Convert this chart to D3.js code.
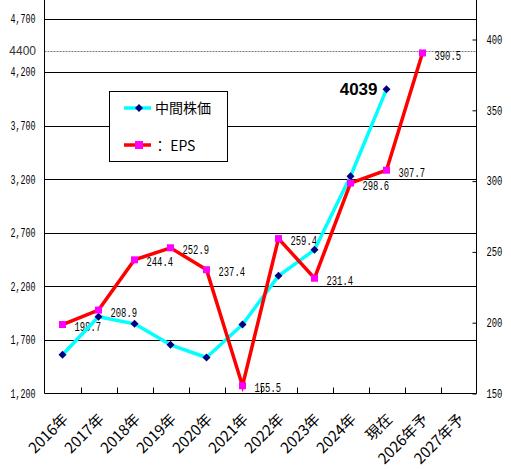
<!DOCTYPE html>
<html><head><meta charset="utf-8">
<script src="https://cdn.jsdelivr.net/npm/d3@7"></script>
<style>body{margin:0;background:#fff;} svg{display:block;}</style>
</head><body>
<svg id="c" width="511" height="469"></svg>
<script>
const categories = ["2016年","2017年","2018年","2019年","2020年","2021年","2022年","2023年","2024年","現在","2026年予","2027年予"];
const priceValues = [1561, 1916, 1850, 1654, 1536, 1844, 2298, 2541, 3228, 4039, null, null];
const epsValues = [198.7, 208.9, 244.4, 252.9, 237.4, 155.5, 259.4, 231.4, 298.6, 307.7, 390.5, null];
const leftTicks = [1200, 1700, 2200, 2700, 3200, 3700, 4200, 4700];
const rightTicks = [150, 200, 250, 300, 350, 400];
const refLine = 4400;
const priceLabel = "4039";
const legendNames = ["中間株価", "：  EPS"];

const svg = d3.select("#c");
const L = 44.5, R = 476.5, B = 393.5;
const x = d3.scaleBand().domain(categories).range([L, R]).padding(0);
const yL = d3.scaleLinear().domain([1200, 4700]).range([393.5, 18.5]);
const yR = d3.scaleLinear().domain([150, 400]).range([393.5, 39.5]);
const cx = d => x(d) + x.bandwidth() / 2;
const mono = "'Liberation Mono','DejaVu Sans Mono',monospace";
const narrow = (sel, w) => sel.each(function(){ const t=d3.select(this); const n=t.text().length; t.attr("textLength", n*w).attr("lengthAdjust","spacingAndGlyphs"); });

svg.append("rect").attr("width",511).attr("height",469).attr("fill","#fff");

// gridlines
svg.append("g").selectAll("line").data(leftTicks.slice(1)).join("line")
  .attr("x1", L).attr("x2", R).attr("y1", d => Math.round(yL(d)) + 0.5).attr("y2", d => Math.round(yL(d)) + 0.5)
  .attr("stroke", "#000").attr("stroke-width", 1);
// dashed reference line
svg.append("line").attr("x1", L).attr("x2", R).attr("y1", Math.round(yL(refLine)) + 0.5).attr("y2", Math.round(yL(refLine)) + 0.5)
  .attr("stroke", "#777").attr("stroke-width", 1).attr("stroke-dasharray", "2,1");
svg.append("text").attr("x", 36).attr("y", yL(refLine)).attr("dy", "0.35em").attr("text-anchor", "end")
  .attr("font-family", "'Liberation Sans',Arial,sans-serif").attr("font-size", 12).attr("fill", "#333").text(refLine);

// left axis
const gl = svg.append("g").attr("transform", `translate(${L},0)`)
  .call(d3.axisLeft(yL).tickValues(leftTicks).tickSize(0).tickPadding(9).tickFormat(d3.format(",")));
gl.select(".domain").remove();
gl.selectAll("text").attr("font-family", mono).attr("font-size", 12).attr("fill", "#000").call(narrow, 5.0);
svg.append("line").attr("x1", L).attr("x2", L).attr("y1", 0).attr("y2", B).attr("stroke", "#000");

// right axis
const gr = svg.append("g").attr("transform", `translate(${R},0)`)
  .call(d3.axisRight(yR).tickValues(rightTicks).tickSizeInner(-4).tickSizeOuter(0).tickPadding(10));
gr.select(".domain").remove();
gr.selectAll("line").attr("stroke", "#000");
gr.selectAll("text").attr("font-family", mono).attr("font-size", 12).attr("fill", "#000").call(narrow, 5.3);
svg.append("line").attr("x1", R).attr("x2", R).attr("y1", 0).attr("y2", B).attr("stroke", "#000");

// bottom axis
const gb = svg.append("g").attr("transform", `translate(0,${B})`)
  .call(d3.axisBottom(x).tickSize(0).tickPadding(0));
gb.select(".domain").remove();
gb.selectAll("text")
  .attr("font-family", "'Noto Sans CJK JP',sans-serif").attr("font-size", 15).attr("fill", "#000")
  .attr("text-anchor", "end").attr("x", 0).attr("y", 0).attr("dy", "0.35em")
  .attr("transform", "translate(3,23) rotate(-45)");
svg.append("line").attr("x1", L).attr("x2", R).attr("y1", B).attr("y2", B).attr("stroke", "#000");
svg.append("g").selectAll("line").data(categories.slice(1)).join("line")
  .attr("x1", d => Math.round(x(d)) + 0.5).attr("x2", d => Math.round(x(d)) + 0.5)
  .attr("y1", B).attr("y2", B - 6).attr("stroke", "#000");

// EPS labels (under lines)
const epsPts = categories.map((c, i) => ({c, v: epsValues[i]})).filter(d => d.v != null);
svg.append("g").selectAll("text").data(epsPts).join("text")
  .attr("x", d => cx(d.c) + 12).attr("y", d => yR(d.v) + 2).attr("dy", "0.35em")
  .attr("font-family", mono).attr("font-size", 13).attr("fill", "#000")
  .text(d => d.v.toFixed(1)).call(narrow, 5.3);

// price line
const pricePts = categories.map((c, i) => ({c, v: priceValues[i]})).filter(d => d.v != null);
svg.append("path").datum(pricePts)
  .attr("d", d3.line().x(d => cx(d.c)).y(d => yL(d.v)))
  .attr("fill", "none").attr("stroke", "#00FFFF").attr("stroke-width", 3.5).attr("stroke-linejoin", "round");
svg.append("g").selectAll("path").data(pricePts).join("path")
  .attr("transform", d => `translate(${cx(d.c)},${yL(d.v)})`)
  .attr("d", "M0,-4L4,0L0,4L-4,0Z").attr("fill", "#000080");

// EPS line
svg.append("path").datum(epsPts)
  .attr("d", d3.line().x(d => cx(d.c)).y(d => yR(d.v)))
  .attr("fill", "none").attr("stroke", "#FF0000").attr("stroke-width", 3.5).attr("stroke-linejoin", "miter");
svg.append("g").selectAll("rect").data(epsPts).join("rect")
  .attr("x", d => cx(d.c) - 3.5).attr("y", d => yR(d.v) - 3.5).attr("width", 7).attr("height", 7).attr("fill", "#FF00FF");

// current price label
const last = pricePts[pricePts.length - 1];
svg.append("text").attr("x", cx(last.c) - 9).attr("y", yL(last.v) + 6)
  .attr("text-anchor", "end").attr("font-family", "'Liberation Sans',Arial,sans-serif")
  .attr("font-weight", "bold").attr("font-size", 17).attr("fill", "#000").text(priceLabel);

// legend
const lg = svg.append("g");
lg.append("rect").attr("x", 109.5).attr("y", 91.5).attr("width", 118).attr("height", 70)
  .attr("fill", "#fff").attr("stroke", "#000");
lg.append("line").attr("x1", 124).attr("x2", 151).attr("y1", 108).attr("y2", 108).attr("stroke", "#00FFFF").attr("stroke-width", 3.5);
lg.append("path").attr("transform", "translate(139,108)").attr("d", "M0,-4L4,0L0,4L-4,0Z").attr("fill", "#000080");
lg.append("text").attr("x", 155).attr("y", 108).attr("dy", "0.35em").attr("font-family", "'Noto Sans CJK JP',sans-serif")
  .attr("font-size", 14).attr("fill", "#000").text(legendNames[0]);
lg.append("line").attr("x1", 124).attr("x2", 151).attr("y1", 145).attr("y2", 145).attr("stroke", "#FF0000").attr("stroke-width", 3.5);
lg.append("rect").attr("x", 135).attr("y", 141).attr("width", 8).attr("height", 8).attr("fill", "#FF00FF");
lg.append("text").attr("x", 153).attr("y", 146).attr("dy", "0.35em").attr("font-family", "'Noto Sans CJK JP',sans-serif")
  .attr("font-size", 14).attr("fill", "#000").text(legendNames[1]);
</script>
</body></html>
